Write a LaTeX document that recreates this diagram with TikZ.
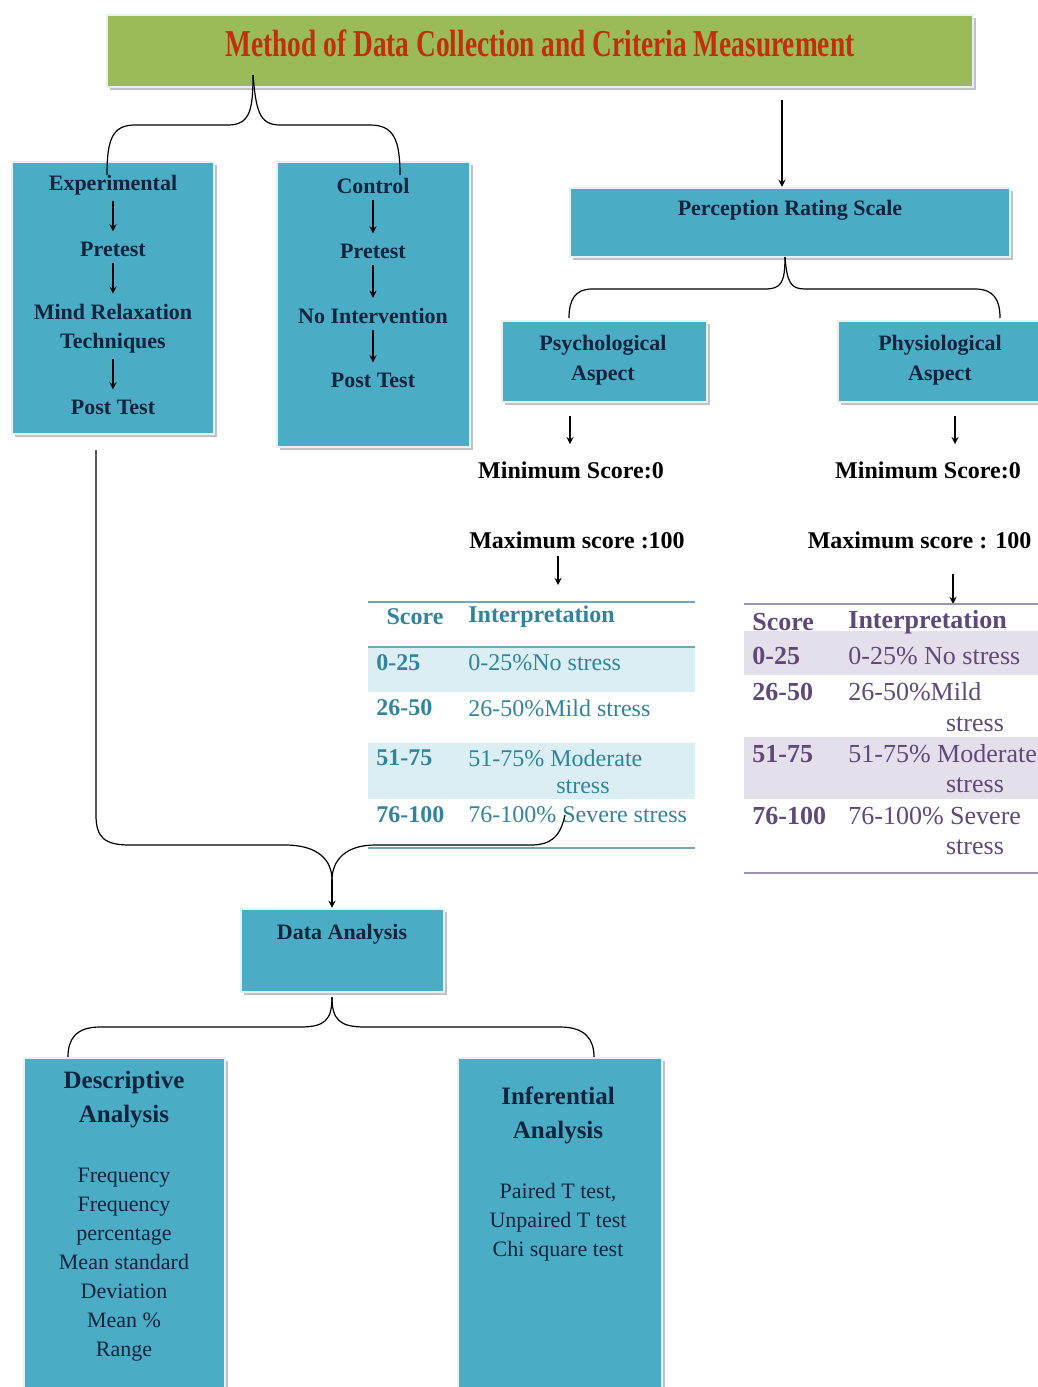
\documentclass[tikz,border=0pt]{standalone}
\usepackage{fontspec}
\setmainfont{Liberation Serif}
\newfontfamily\titlefont[FakeStretch=0.72]{Liberation Serif}
\usepackage{tikz}
\usetikzlibrary{positioning, arrows, shadows}
\usepackage{xcolor}

\definecolor{boxblue}{HTML}{4BACC6}
\definecolor{boxrim}{HTML}{E4F2F6}
\definecolor{titlegreen}{HTML}{9BBB59}
\definecolor{titlered}{HTML}{C0300E}
\definecolor{inktext}{HTML}{0F243E}
\definecolor{tealtext}{HTML}{31849B}
\definecolor{tealshade}{HTML}{DAEEF3}
\definecolor{purptext}{HTML}{5F497A}
\definecolor{purpshade}{HTML}{E5DFEC}

\tikzset{
  box/.style={draw=boxrim, line width=1.2pt, fill=boxblue, inner sep=0pt,
    drop shadow={shadow xshift=1.5pt, shadow yshift=-1.5pt, fill=black!40, opacity=.6}},
  boxtxt/.style={text=inktext, font=\fontsize{11}{15}\selectfont\bfseries, align=center, inner sep=0pt},
  listtxt/.style={text=inktext, font=\fontsize{11}{14.5}\selectfont, align=center, inner sep=0pt},
  headtxt/.style={text=inktext, font=\fontsize{12.5}{17}\selectfont\bfseries, align=center, inner sep=0pt},
  scoretxt/.style={font=\fontsize{12}{14}\selectfont\bfseries, inner sep=0pt},
  brace/.style={semithick},
  arr/.style={->, semithick, shorten <=3pt, shorten >=5pt},
  ltab/.style={text=tealtext, font=\fontsize{12}{14}\selectfont, inner sep=0pt, anchor=west},
  ltabb/.style={ltab, font=\fontsize{12}{14}\selectfont\bfseries},
  rtab/.style={text=purptext, font=\fontsize{13}{15}\selectfont, inner sep=0pt, anchor=west},
  rtabb/.style={rtab, font=\fontsize{13}{15}\selectfont\bfseries}
}

\begin{document}
\begin{tikzpicture}[x=0.5pt, y=-0.5pt, >=stealth]
  \useasboundingbox (0,0) rectangle (1038,1387);

  % title
  \node[box, fill=titlegreen, minimum width=433pt, minimum height=36pt] (title) at (540,51) {};
  \node[text=titlered, font=\titlefont\fontsize{19}{22}\selectfont\bfseries] (titletxt) at (540,43)
    {Method of Data Collection and Criteria Measurement};

  % groups
  \node[box, minimum width=101pt, minimum height=136pt] (exbox) at (113,298) {};
  \node[box, minimum width=96.5pt, minimum height=142.5pt] (ctbox) at (373.5,304.5) {};

  \node[boxtxt] (e1) at (113,185) {Experimental};
  \node[boxtxt] (e2) at (113,249) {Pretest};
  \node[boxtxt, font=\fontsize{11}{14.5}\selectfont\bfseries] (e3) at (113,328.5) {Mind Relaxation\\Techniques};
  \node[boxtxt] (e4) at (113,407) {Post Test};
  \draw[arr] (e1) -- (e2);
  \draw[arr] (e2) -- (e3);
  \draw[arr] (e3) -- (e4);

  \node[boxtxt] (c1) at (373,186) {Control};
  \node[boxtxt] (c2) at (373,251) {Pretest};
  \node[boxtxt] (c3) at (373,316) {No Intervention};
  \node[boxtxt] (c4) at (373,380) {Post Test};
  \draw[arr] (c1) -- (c2);
  \draw[arr] (c2) -- (c3);
  \draw[arr] (c3) -- (c4);

  % brace from the title
  \coordinate (ttip) at (253,75);
  \coordinate (exin) at (107,175);
  \coordinate (ctin) at (400,175);
  \draw[brace] (ttip) .. controls (253,110) and (250,125) .. (228,125) -- (135,125)
    .. controls (112,125) and (107,140) .. (exin);
  \draw[brace] (ttip) .. controls (256,110) and (259,125) .. (280,125) -- (370,125)
    .. controls (394,125) and (400,140) .. (ctin);

  % rating scale
  \node[box, minimum width=220pt, minimum height=34.5pt] (perc) at (790,222.5) {};
  \node[boxtxt] (perctxt) at (790,210) {Perception Rating Scale};
  \coordinate (tdrop) at (782,100);
  \draw[->, semithick] (tdrop) -- (tdrop |- perc.north);

  \node[box, minimum width=102.5pt, minimum height=40.5pt] (psy) at (604.5,361.5) {};
  \node[box, minimum width=103.5pt, minimum height=40.5pt] (phy) at (941.5,361.5) {};
  \node[boxtxt] (psytxt) at (603,360) {Psychological\\Aspect};
  \node[boxtxt] (phytxt) at (940,360) {Physiological\\Aspect};

  \coordinate (ptip) at (785,257);
  \coordinate (psyin) at (569,318);
  \coordinate (phyin) at (1000,318);
  \draw[brace] (ptip) .. controls (785,283) and (781,289) .. (765,289) -- (592,289)
    .. controls (575,289) and (569,300) .. (psyin);
  \draw[brace] (ptip) .. controls (787,283) and (791,289) .. (805,289) -- (975,289)
    .. controls (994,289) and (1000,300) .. (phyin);

  % scores
  \node[scoretxt] (minL) at (571,470) {Minimum Score:0};
  \node[scoretxt] (minR) at (928,470) {Minimum Score:0};
  \node[scoretxt] (maxL) at (577,540) {Maximum score :100};
  \node[scoretxt] (maxR) at (919.5,540) {Maximum score : 100};
  \draw[->, semithick, shorten <=6.5pt, shorten >=8.5pt] (psy.south -| 570,0) -- (minL.north -| 570,0);
  \draw[->, semithick, shorten <=6.5pt, shorten >=8.5pt] (phy.south -| 955,0) -- (minR.north -| 955,0);

  \coordinate (lefttab) at (368,602);
  \coordinate (righttab) at (744,604);
  \draw[->, semithick, shorten <=3.5pt, shorten >=8.5pt] (maxL.south -| 558,0) -- (lefttab -| 558,0);
  \draw[->, semithick, shorten <=12.5pt] (maxR.south -| 953,0) -- (righttab -| 953,0);

  % left table
  \fill[tealshade] (368,647) rectangle (695,692);
  \fill[tealshade] (368,743) rectangle (695,799);
  \draw[tealtext!70, line width=0.9pt] (lefttab) -- (695,602);
  \draw[tealtext!70, line width=0.9pt] (368,647) -- (695,647);
  \draw[tealtext!70, line width=0.9pt] (368,848) -- (695,848);
  \node[ltabb, anchor=center] (lsh) at (415,617) {Score};
  \node[ltabb] (lih) at (468,617) {Interpretation};
  \node[ltabb] (lr1) at (376,663) {0-25};
  \node[ltab]  (li1) at (468,663) {0-25\%No stress};
  \node[ltabb] (lr2) at (376,708) {26-50};
  \node[ltab]  (li2) at (468,708) {26-50\%Mild stress};
  \node[ltabb] (lr3) at (376,758) {51-75};
  \node[ltab]  (li3) at (468,758) {51-75\% Moderate};
  \node[ltab, anchor=center] (li3b) at (583,787) {stress};
  \node[ltabb] (lr4) at (376,815) {76-100};
  \node[ltab]  (li4) at (468,815) {76-100\% Severe stress};

  % right table
  \fill[purpshade] (righttab |- 0,631) rectangle (1038,675);
  \fill[purpshade] (righttab |- 0,737) rectangle (1038,799);
  \draw[purptext!60, line width=0.9pt] (righttab) -- (1038,604);
  \draw[purptext!60, line width=0.9pt] (744,873) -- (1038,873);
  \node[rtabb] (rsh) at (752,622) {Score};
  \node[rtabb] (rih) at (848,622) {Interpretation};
  \node[rtabb] (rr1) at (752,656) {0-25};
  \node[rtab]  (ri1) at (848,656) {0-25\% No stress};
  \node[rtabb] (rr2) at (752,692) {26-50};
  \node[rtab]  (ri2) at (848,692) {26-50\%Mild};
  \node[rtab, anchor=center] (ri2b) at (975,724) {stress};
  \node[rtabb] (rr3) at (752,754) {51-75};
  \node[rtab]  (ri3) at (848,754) {51-75\% Moderate};
  \node[rtab, anchor=center] (ri3b) at (975,785) {stress};
  \node[rtabb] (rr4) at (752,816) {76-100};
  \node[rtab]  (ri4) at (848,816) {76-100\% Severe};
  \node[rtab, anchor=center] (ri4b) at (975,847) {stress};

  % merge into data analysis
  \node[box, minimum width=101.5pt, minimum height=41.5pt] (data) at (342.5,950.5) {};
  \node[boxtxt] (datatxt) at (342,934) {Data Analysis};
  \coordinate (exout) at (96,450);
  \coordinate (sevin) at (565,815);
  \coordinate (mtip) at (332,880);
  \draw[brace] (exout) -- (96,815) .. controls (96,838) and (105,845) .. (130,845) -- (285,845)
    .. controls (318,845) and (332,860) .. (mtip);
  \draw[brace] (sevin) .. controls (560,838) and (550,845) .. (530,845) -- (375,845)
    .. controls (346,845) and (332,860) .. (mtip);
  \draw[->, semithick] (mtip) -- (mtip |- data.north);

  % analysis
  \node[box, minimum width=100.5pt, minimum height=171pt] (desc) at (124.5,1229) {};
  \node[box, minimum width=102pt, minimum height=171pt] (infer) at (560,1229) {};
  \node[headtxt] (deschd) at (124,1100) {Descriptive\\Analysis};
  \node[listtxt] (desclst) at (124,1264.5) {Frequency\\Frequency\\percentage\\Mean standard\\Deviation\\Mean \%\\Range};
  \node[headtxt] (infhd) at (558,1115.5) {Inferential\\Analysis};
  \node[listtxt] (inflst) at (558,1222) {Paired T test,\\Unpaired T test\\Chi square test};

  \coordinate (dtip) at (332,997);
  \coordinate (descin) at (68,1057);
  \coordinate (infin) at (594,1057);
  \draw[brace] (dtip) .. controls (332,1020) and (325,1027) .. (300,1027) -- (100,1027)
    .. controls (75,1027) and (68,1040) .. (descin);
  \draw[brace] (dtip) .. controls (332,1020) and (340,1027) .. (365,1027) -- (560,1027)
    .. controls (586,1027) and (594,1040) .. (infin);
\end{tikzpicture}
\end{document}
